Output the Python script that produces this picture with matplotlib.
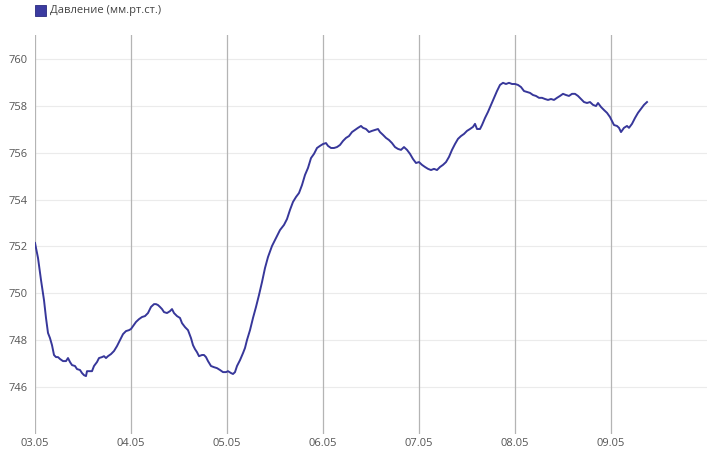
import matplotlib
matplotlib.use("Agg")
import matplotlib.pyplot as plt
from matplotlib.patches import Rectangle

plt.rcParams['font.family'] = ['Open Sans', 'DejaVu Sans']

# hours since 03.05 00:00
hours = [
    0, 0.75, 1.5, 2.25, 2.75, 3.25, 3.75, 4.25, 4.75, 5.25, 5.75, 6.25, 7.0, 7.75,
    8.25, 8.75, 9.25, 10.0, 10.5, 11.25, 11.75, 12.25, 12.75, 13.0, 13.75, 14.25,
    14.75, 15.5, 16.0, 16.75, 17.25, 17.75, 18.25, 19.0, 19.75, 20.5, 21.25, 22.0,
    22.75, 23.5, 24.0, 24.5, 25.25, 26.0, 26.75, 27.5, 28.25, 29.0, 29.75, 30.25,
    30.75, 31.25, 31.75, 32.25, 33.0, 33.75, 34.25, 34.75, 35.5, 36.25, 36.75,
    37.5, 38.25, 39.0, 39.5, 40.0, 40.5, 41.0, 41.75, 42.25, 42.75, 43.25, 44.0,
    44.75, 45.5, 46.25, 47.0, 47.75, 48.25, 49.0, 49.5, 50.0, 50.5, 51.25, 52.0,
    52.5, 53.0, 53.75, 54.5, 55.25, 56.0, 56.75, 57.5, 58.25, 59.25, 60.25, 61.25,
    62.25, 63.0, 63.75, 64.5, 65.25, 66.0, 66.75, 67.5, 68.25, 69.0, 69.75, 70.5,
    71.25, 72.0, 72.75, 73.25, 74.0, 74.75, 75.5, 76.25, 77.0, 77.75, 78.5, 79.25,
    80.0, 80.75, 81.5, 82.0, 82.75, 83.5, 84.25, 85.0, 85.75, 86.25, 87.0, 87.75,
    88.5, 89.25, 90.0, 90.75, 91.5, 92.25, 93.0, 93.75, 94.5, 95.25, 96.0, 96.75,
    97.5, 98.25, 99.0, 99.75, 100.5, 101.25, 102.0, 102.75, 103.5, 104.25, 105.0,
    105.75, 106.5, 107.25, 108.0, 108.75, 109.5, 110.0, 110.5, 111.25, 111.75,
    112.5, 113.25, 114.0, 114.75, 115.5, 116.25, 117.0, 117.75, 118.5, 119.25,
    120.0, 120.75, 121.5, 122.25, 123.0, 123.75, 124.5, 125.25, 126.0, 126.75,
    127.5, 128.25, 129.0, 129.75, 130.5, 131.25, 132.0, 132.75, 133.5, 134.25,
    135.0, 135.75, 136.5, 137.25, 138.0, 138.75, 139.5, 140.25, 140.75, 141.5,
    142.25, 143.0, 143.75, 144.25, 144.75, 145.5, 146.0, 146.5, 147.25, 148.0,
    148.5, 149.25, 150.0, 150.75, 151.5, 152.25, 153.0,
]

pressure = [
    752.15, 751.51, 750.57, 749.71, 748.95, 748.31, 748.09, 747.79, 747.37, 747.28,
    747.28, 747.20, 747.11, 747.11, 747.24, 747.07, 746.94, 746.90, 746.77, 746.73,
    746.60, 746.51, 746.47, 746.68, 746.68, 746.68, 746.90, 747.07, 747.24, 747.28,
    747.32, 747.24, 747.32, 747.41, 747.54, 747.75, 748.01, 748.26, 748.39, 748.43,
    748.48, 748.60, 748.78, 748.90, 748.99, 749.03, 749.16, 749.42, 749.54, 749.54,
    749.50, 749.42, 749.33, 749.20, 749.16, 749.24, 749.33, 749.16, 749.03, 748.95,
    748.73, 748.56, 748.43, 748.09, 747.79, 747.62, 747.49, 747.32, 747.37, 747.37,
    747.28, 747.11, 746.90, 746.85, 746.81, 746.73, 746.64, 746.64, 746.68, 746.60,
    746.56, 746.64, 746.90, 747.15, 747.45, 747.67, 748.01, 748.43, 748.95, 749.42,
    749.93, 750.48, 751.08, 751.55, 752.02, 752.36, 752.70, 752.92, 753.17, 753.56,
    753.90, 754.11, 754.28, 754.62, 755.05, 755.35, 755.77, 755.95, 756.20, 756.29,
    756.37, 756.41, 756.29, 756.20, 756.20, 756.24, 756.33, 756.50, 756.63, 756.71,
    756.88, 756.97, 757.06, 757.14, 757.06, 757.01, 756.88, 756.93, 756.97, 757.01,
    756.88, 756.76, 756.63, 756.54, 756.41, 756.24, 756.16, 756.12, 756.24, 756.12,
    755.95, 755.73, 755.56, 755.60, 755.48, 755.39, 755.31, 755.26, 755.31, 755.26,
    755.39, 755.48, 755.60, 755.82, 756.12, 756.37, 756.59, 756.71, 756.80, 756.93,
    757.01, 757.10, 757.23, 757.01, 757.01, 757.18, 757.48, 757.74, 758.04, 758.34,
    758.63, 758.89, 758.98, 758.93, 758.98, 758.93, 758.93, 758.89, 758.80, 758.63,
    758.59, 758.55, 758.46, 758.42, 758.34, 758.34, 758.29, 758.25, 758.29, 758.25,
    758.34, 758.42, 758.51, 758.46, 758.42, 758.51, 758.51, 758.42, 758.29, 758.16,
    758.12, 758.16, 758.04, 757.99, 758.12, 757.95, 757.82, 757.70, 757.52, 757.35,
    757.18, 757.14, 757.06, 756.88, 757.06, 757.14, 757.06, 757.23, 757.48, 757.70,
    757.87, 758.04, 758.16,
]

day_labels = ["03.05", "04.05", "05.05", "06.05", "07.05", "08.05", "09.05"]
y_ticks = [746, 748, 750, 752, 754, 756, 758, 760]
series_name = "Давление (мм.рт.ст.)"
line_color = "#37379a"

fig = plt.figure(figsize=(7.07, 4.51), dpi=100)
ax = fig.add_axes([35 / 707, 1 - 434 / 451, 1 - 35 / 707, (434 - 35) / 451])

ax.plot(hours, pressure, color=line_color, linewidth=1.4, zorder=3)

ax.set_xlim(0, 168)
ax.set_ylim(744, 761.02)

# horizontal grid (light)
for v in y_ticks:
    ax.axhline(v, color="#ebebeb", linewidth=0.8, zorder=1)
# vertical grid (darker), one per day
for i in range(len(day_labels)):
    ax.axvline(i * 24, color="#b4b4b4", linewidth=0.9, zorder=2)

ax.set_xticks([i * 24 for i in range(len(day_labels))])
ax.set_xticklabels(day_labels)
ax.set_yticks(y_ticks)
ax.set_yticklabels([str(v) for v in y_ticks])
ax.tick_params(axis="both", length=0, labelsize=8, labelcolor="#555555")
ax.tick_params(axis="y", pad=5)
ax.tick_params(axis="x", pad=3)
for s in ax.spines.values():
    s.set_visible(False)

# legend
fig.patches.append(Rectangle((35 / 707, 1 - 16 / 451), 11 / 707, 11 / 451,
                             transform=fig.transFigure, facecolor="#3b3ba0",
                             edgecolor="#2a2a80", linewidth=0.6))
fig.text(50 / 707, 1 - 11 / 451, series_name, fontsize=8, color="#444444", va="center")

fig.savefig("out.png", dpi=100)
